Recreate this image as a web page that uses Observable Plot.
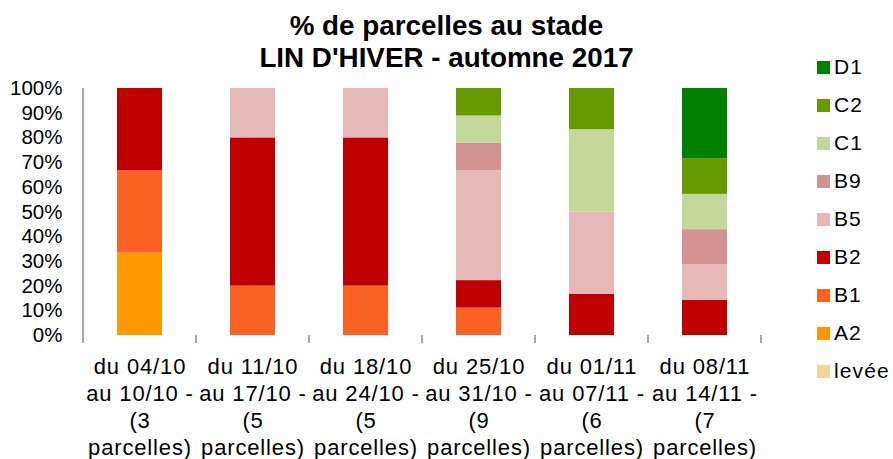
<!DOCTYPE html>
<html>
<head>
<meta charset="utf-8">
<script src="https://cdn.jsdelivr.net/npm/d3@7"></script>
<script src="https://cdn.jsdelivr.net/npm/@observablehq/plot@0.6"></script>
<style>
  html, body { margin: 0; padding: 0; background: #fff; }
  #wrap { position: relative; width: 893px; height: 459px; overflow: hidden; font-family: "Liberation Sans", Arial, sans-serif; color: #000; }
  #title { position: absolute; left: 0; top: 10px; width: 893px; text-align: center; font-weight: bold; font-size: 27.8px; line-height: 32px; }
  #legend { position: absolute; left: 817px; top: 48px; display: flex; flex-direction: column; }
  #legend .item { display: flex; align-items: center; height: 38px; font-size: 21px; letter-spacing: 1.1px; }
  #legend .sw { width: 13px; height: 13px; margin-right: 4px; }
  #chart { position: absolute; left: 0; top: 0; }
</style>
</head>
<body>
<div id="wrap">
  <div id="chart"></div>
  <div id="title">% de parcelles au stade<br>LIN D'HIVER - automne 2017</div>
  <div id="legend"></div>
</div>
<script>
// Categories (periods)
const periods = [
  "du 04/10\nau 10/10 -\n(3\nparcelles)",
  "du 11/10\nau 17/10 -\n(5\nparcelles)",
  "du 18/10\nau 24/10 -\n(5\nparcelles)",
  "du 25/10\nau 31/10 -\n(9\nparcelles)",
  "du 01/11\nau 07/11 -\n(6\nparcelles)",
  "du 08/11\nau 14/11 -\n(7\nparcelles)"
];
// Stages, bottom to top of the stack
const stages = ["levée", "A2", "B1", "B2", "B5", "B9", "C1", "C2", "D1"];
const stageColors = ["#f3d59b", "#ff9900", "#fa6122", "#c00000", "#e6b9b8", "#d39392", "#c4d79b", "#669900", "#008000"];
// Number of parcelles at each stage, per period
const levee = [0, 0, 0, 0, 0, 0];
const A2 = [1, 0, 0, 0, 0, 0];
const B1 = [1, 1, 1, 1, 0, 0];
const B2 = [1, 3, 3, 1, 1, 1];
const B5 = [0, 1, 1, 4, 2, 1];
const B9 = [0, 0, 0, 1, 0, 1];
const C1 = [0, 0, 0, 1, 2, 1];
const C2 = [0, 0, 0, 1, 1, 1];
const D1 = [0, 0, 0, 0, 0, 2];

const series = {"levée": levee, A2, B1, B2, B5, B9, C1, C2, D1};
const data = [];
stages.forEach(s => periods.forEach((p, i) => {
  if (series[s][i] > 0) data.push({period: p, stage: s, count: series[s][i]});
}));

const grey = "#8c8c8c";

function boundaryTicks(index, scales, values, dimensions) {
  const x = scales.x;
  const {marginTop, marginBottom, height} = dimensions;
  const y0 = height - marginBottom;
  const step = x.step(), bw = x.bandwidth();
  const bounds = periods.map(p => x(p) + bw / 2 - step / 2);
  bounds.push(x(periods[periods.length - 1]) + bw / 2 + step / 2);
  const g = d3.create("svg:g").attr("stroke", grey).attr("stroke-width", 1.5);
  g.selectAll("line.t").data(bounds).join("line")
    .attr("x1", d => d).attr("x2", d => d)
    .attr("y1", y0).attr("y2", y0 + 8);
  g.append("line").attr("x1", bounds[0]).attr("x2", bounds[0])
    .attr("y1", marginTop).attr("y2", y0);
  return g.node();
}

const chart = Plot.plot({
  width: 893,
  height: 459,
  marginLeft: 82,
  marginRight: 130,
  marginTop: 88,
  marginBottom: 124,
  style: {fontFamily: "'Liberation Sans', Arial, sans-serif", background: "transparent", overflow: "visible"},
  x: {domain: periods, paddingInner: 0.6, paddingOuter: 0.3, axis: null},
  y: {domain: [0, 1], axis: null, label: null},
  color: {domain: stages, range: stageColors},
  marks: [
    Plot.gridY({ticks: 10, stroke: grey, strokeOpacity: 1, strokeWidth: 1.5, x1: 75}),
    Plot.barY(data, Plot.stackY({x: "period", y: "count", fill: "stage", order: stages, offset: "normalize"})),
    Plot.axisY({ticks: 10, label: null, tickFormat: d3.format(".0%"), tickSize: 0, tickPadding: 20, fontSize: 20.5, fill: "#000"}),
    boundaryTicks,
    Plot.text(periods, {x: d => d, text: d => d, frameAnchor: "bottom", lineAnchor: "top", dy: 19.5, lineHeight: 1.22, fontSize: 22, fill: "#000"})
  ]
});
document.getElementById("chart").append(chart);
d3.select(chart).selectAll('g[aria-label="text"] text').style("letter-spacing", "0.85px");

// Legend (top to bottom: reverse of stack order)
const legend = d3.select("#legend");
stages.slice().reverse().forEach(s => {
  const it = legend.append("div").attr("class", "item");
  it.append("div").attr("class", "sw").style("background", stageColors[stages.indexOf(s)]);
  it.append("span").text(s);
});
</script>
</body>
</html>
